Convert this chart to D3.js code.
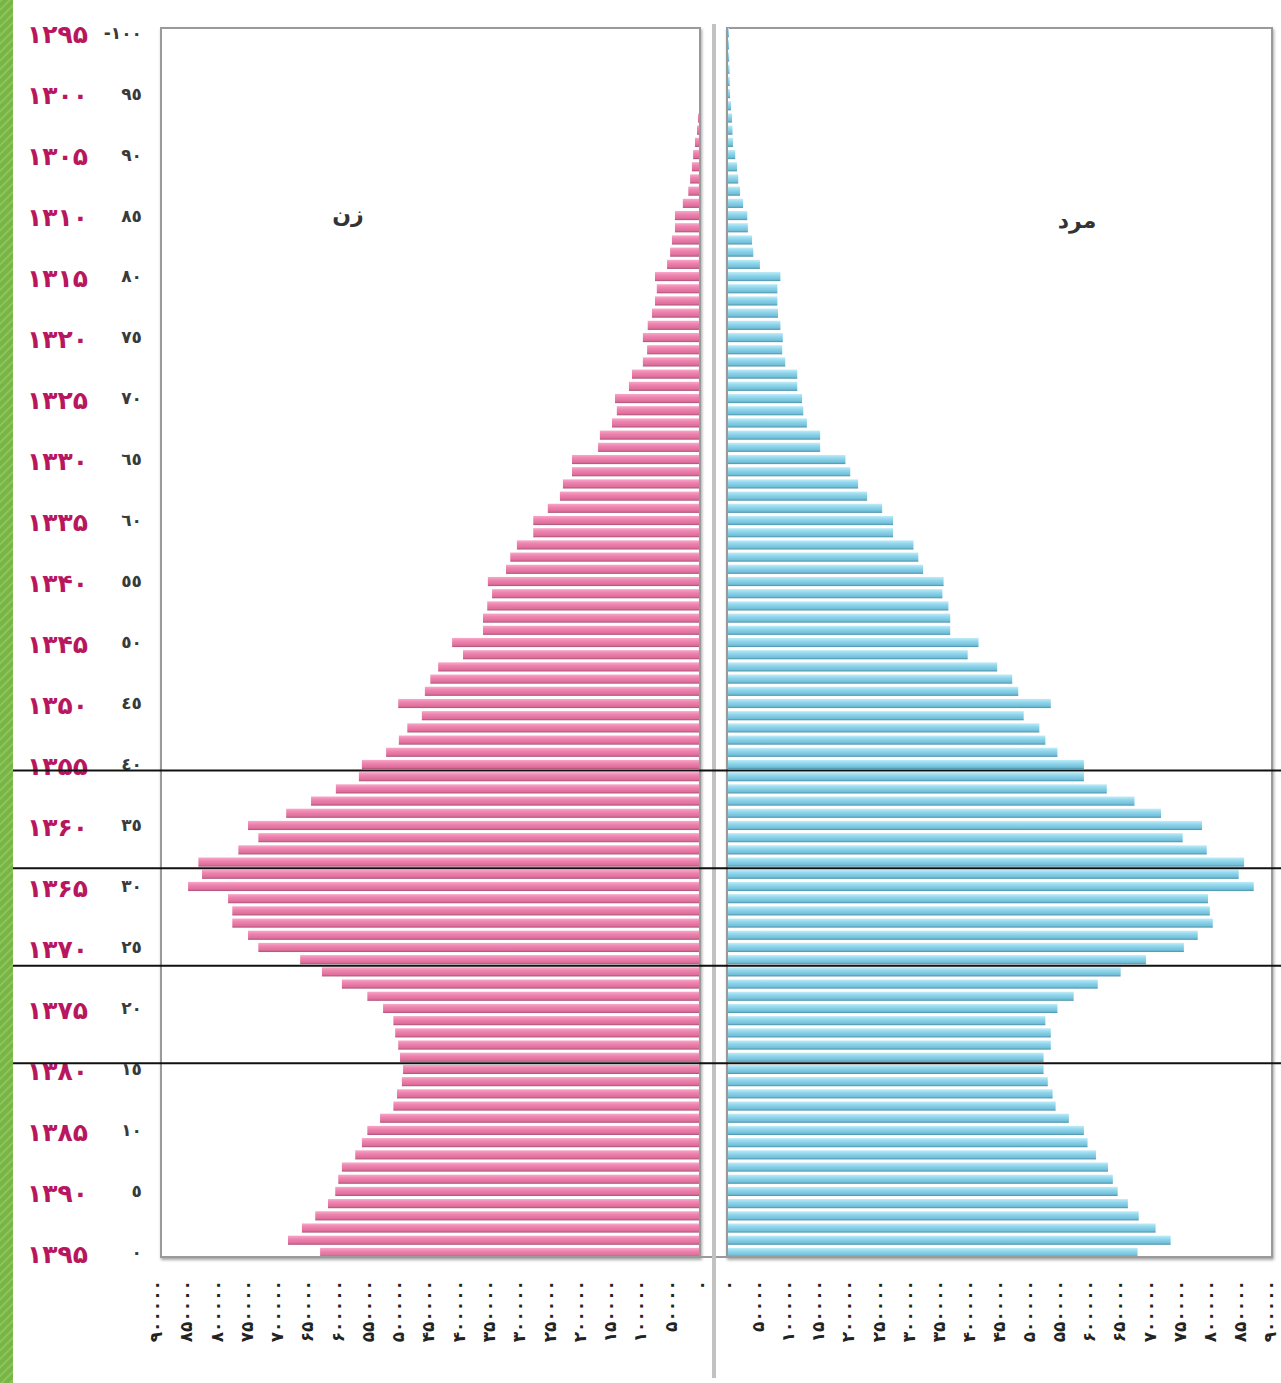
<!DOCTYPE html>
<html>
<head>
<meta charset="utf-8">
<script src="https://cdn.jsdelivr.net/npm/d3@7"></script>
<style>
  html, body { margin: 0; padding: 0; background: #fff; }
  svg { display: block; }
  .age-label { font-family: "DejaVu Sans", sans-serif; font-weight: bold; font-size: 17px; fill: #3a3a3a; }
  .year-label { font-family: "DejaVu Sans", sans-serif; font-weight: bold; font-size: 25px; fill: #b8175f; }
  .tick-label { font-family: "DejaVu Sans", sans-serif; font-weight: bold; font-size: 17px; fill: #222; }
  .sex-label { font-family: "DejaVu Sans", sans-serif; font-weight: bold; font-size: 22px; fill: #333; }
</style>
</head>
<body>
<div id="chart"></div>
<script>
// single-year ages, 0 .. 100+
const ages = d3.range(0, 101);

// women (left), index = age
const female = [
  629000, 682000, 659000, 637000, 616000, 604000, 599000, 593000, 571000, 560000,
  551000, 530000, 508000, 502000, 494000, 492000, 497000, 500000, 505000, 508000,
  525000, 551000, 593000, 626000, 662000, 731000, 748000, 774000, 774000, 781000,
  847000, 824000, 830000, 764000, 731000, 748000, 685000, 644000, 603000, 565000,
  560000, 520000, 499000, 485000, 461000, 500000, 456000, 447000, 434000, 393000,
  411000, 360000, 360000, 353000, 345000, 352000, 322000, 315000, 304000, 277000,
  277000, 253000, 233000, 228000, 213000, 213000, 170000, 167000, 147000, 139000,
  142000, 119000, 114000, 96000, 89000, 96000, 88000, 81000, 76000, 73000,
  76000, 56000, 51000, 48000, 43000, 43000, 30000, 21000, 18000, 15000,
  13000, 10000, 6600, 5000, 3300, 2000, 1500, 1000, 800, 600,
  1000
];

// men (right), index = age
const male = [
  680000, 735000, 710000, 682000, 664000, 647000, 639000, 631000, 611000, 597000,
  591000, 566000, 544000, 539000, 531000, 524000, 524000, 536000, 536000, 527000,
  547000, 574000, 614000, 652000, 694000, 757000, 780000, 805000, 800000, 797000,
  873000, 848000, 857000, 795000, 755000, 787000, 719000, 675000, 629000, 591000,
  591000, 547000, 527000, 517000, 491000, 536000, 482000, 472000, 447000, 398000,
  416000, 369000, 369000, 366000, 356000, 358000, 324000, 316000, 308000, 274000,
  274000, 256000, 231000, 216000, 203000, 195000, 153000, 153000, 131000, 125000,
  123000, 115000, 115000, 95000, 90000, 91000, 87000, 83000, 82000, 82000,
  87000, 53000, 42000, 40000, 33000, 32000, 25000, 20000, 17000, 15000,
  12000, 8300, 7500, 6700, 5000, 3300, 2800, 2500, 2000, 1700,
  1500
];

// labelled ages and their birth years (1395 census)
const tickAges = [0, 5, 10, 15, 20, 25, 30, 35, 40, 45, 50, 55, 60, 65, 70, 75, 80, 85, 90, 95, 100];
const ageLabels = ["٠", "٥", "١٠", "١٥", "٢٠", "٢٥", "٣٠", "٣٥", "٤٠", "٤٥", "٥٠",
  "٥٥", "٦٠", "٦٥", "٧٠", "٧٥", "٨٠", "٨٥", "٩٠", "٩٥", "-١٠٠"];
const yearLabels = ["۱۳۹۵", "۱۳۹۰", "۱۳۸۵", "۱۳۸۰", "۱۳۷۵", "۱۳۷۰", "۱۳۶۵", "۱۳۶۰", "۱۳۵۵", "۱۳۵۰", "۱۳۴۵",
  "۱۳۴۰", "۱۳۳۵", "۱۳۳۰", "۱۳۲۵", "۱۳۲۰", "۱۳۱۵", "۱۳۱۰", "۱۳۰۵", "۱۳۰۰", "۱۲۹۵"];

// population ticks on both sides
const popTicks = [0, 50000, 100000, 150000, 200000, 250000, 300000, 350000, 400000, 450000,
  500000, 550000, 600000, 650000, 700000, 750000, 800000, 850000, 900000];

// cohort marker lines drawn under these ages
const markerAges = [16, 24, 32, 40];

const sexLabels = { female: "زن", male: "مرد" };

const toFa = n => String(n).replace(/\d/g, d => "۰۱۲۳۴۵۶۷۸۹"[d]);

const width = 1281;
const height = 1383;
const frameTop = 28;
const frameBottom = 1257;

const svg = d3.select("#chart")
  .append("svg")
  .attr("width", width)
  .attr("height", height);

const defs = svg.append("defs");

const addGradient = (id, stops) => {
  const g = defs.append("linearGradient")
    .attr("id", id)
    .attr("x1", 0).attr("y1", 0)
    .attr("x2", 0).attr("y2", 1);
  stops.forEach(s => g.append("stop").attr("offset", s[0]).attr("stop-color", s[1]));
};

addGradient("pink", [["0%", "#f7a8c9"], ["35%", "#ee84b0"], ["80%", "#df6e9b"], ["100%", "#a65276"]]);
addGradient("blue", [["0%", "#c0ecf8"], ["35%", "#92d7ed"], ["80%", "#71c0d9"], ["100%", "#4c8fa6"]]);

const stripes = defs.append("pattern")
  .attr("id", "stripes")
  .attr("width", 6).attr("height", 6)
  .attr("patternUnits", "userSpaceOnUse")
  .attr("patternTransform", "rotate(45)");
stripes.append("rect").attr("width", 6).attr("height", 6).attr("fill", "#78b446");
stripes.append("rect").attr("width", 2).attr("height", 6).attr("fill", "#8cc55a");

const shadow = defs.append("filter").attr("id", "shadow").attr("x", "-5%").attr("y", "-5%").attr("width", "110%").attr("height", "110%");
shadow.append("feDropShadow").attr("dx", 1).attr("dy", 2).attr("stdDeviation", 1.5).attr("flood-color", "#000").attr("flood-opacity", 0.35);

// green strip on the left edge
svg.append("rect")
  .attr("x", 0).attr("y", 0)
  .attr("width", 13).attr("height", height)
  .attr("fill", "url(#stripes)");

const y = d3.scaleBand()
  .domain(ages)
  .range([frameBottom, frameTop])
  .paddingInner(0.25);

const xLeft = d3.scaleLinear().domain([0, 900000]).range([701, 156]);
const xRight = d3.scaleLinear().domain([0, 900000]).range([728, 1270]);

// frames
svg.append("rect")
  .attr("x", 161).attr("y", frameTop)
  .attr("width", 539).attr("height", frameBottom - frameTop)
  .attr("fill", "#fff")
  .attr("stroke", "#9a9a9a")
  .attr("stroke-width", 2)
  .attr("filter", "url(#shadow)");

svg.append("rect")
  .attr("x", 727).attr("y", frameTop)
  .attr("width", 545).attr("height", frameBottom - frameTop)
  .attr("fill", "#fff")
  .attr("stroke", "#9a9a9a")
  .attr("stroke-width", 2)
  .attr("filter", "url(#shadow)");

// bars
svg.append("g")
  .selectAll("rect")
  .data(ages)
  .join("rect")
  .attr("x", a => xLeft(female[a]))
  .attr("y", a => y(a))
  .attr("width", a => xLeft(0) - xLeft(female[a]))
  .attr("height", y.bandwidth())
  .attr("fill", "url(#pink)");

svg.append("g")
  .selectAll("rect")
  .data(ages)
  .join("rect")
  .attr("x", xRight(0))
  .attr("y", a => y(a))
  .attr("width", a => xRight(male[a]) - xRight(0))
  .attr("height", y.bandwidth())
  .attr("fill", "url(#blue)");

// inner frame edges drawn over the bars
svg.append("line")
  .attr("x1", 700).attr("x2", 700)
  .attr("y1", frameTop).attr("y2", frameBottom)
  .attr("stroke", "#9a9a9a").attr("stroke-width", 2);
svg.append("line")
  .attr("x1", 727).attr("x2", 727)
  .attr("y1", frameTop).attr("y2", frameBottom)
  .attr("stroke", "#9a9a9a").attr("stroke-width", 2);
svg.append("line")
  .attr("x1", 161).attr("x2", 1272)
  .attr("y1", frameBottom).attr("y2", frameBottom)
  .attr("stroke", "#9a9a9a").attr("stroke-width", 2);

// centre divider
svg.append("line")
  .attr("x1", 714).attr("x2", 714)
  .attr("y1", 24).attr("y2", 1378)
  .attr("stroke", "#c2c2c2").attr("stroke-width", 4);

// age and birth-year labels
const labels = svg.append("g");
tickAges.forEach((a, i) => {
  const cy = y(a) + y.bandwidth() / 2;
  labels.append("text")
    .attr("class", "age-label")
    .attr("x", 142)
    .attr("y", cy)
    .attr("dy", "0.35em")
    .attr("text-anchor", "end")
    .attr("direction", "ltr")
    .text(ageLabels[i]);
  labels.append("text")
    .attr("class", "year-label")
    .attr("x", 88)
    .attr("y", cy + 2)
    .attr("dy", "0.35em")
    .attr("text-anchor", "end")
    .attr("direction", "ltr")
    .text(yearLabels[i]);
});

// population tick labels, vertical
const addTicks = (scale, ticks) => {
  svg.append("g")
    .selectAll("text")
    .data(ticks)
    .join("text")
    .attr("class", "tick-label")
    .attr("transform", d => `translate(${scale(d)},1280) rotate(-90)`)
    .attr("dy", "0.35em")
    .attr("text-anchor", "end")
    .attr("direction", "ltr")
    .text(d => toFa(d));
};
addTicks(xLeft, popTicks);
addTicks(xRight, popTicks);

// cohort marker lines
markerAges.forEach(a => {
  const yy = (y(a) + y.bandwidth() + y(a - 1)) / 2;
  svg.append("line")
    .attr("x1", 13).attr("x2", width)
    .attr("y1", yy).attr("y2", yy)
    .attr("stroke", "#111").attr("stroke-width", 2);
});

// sex labels
svg.append("text")
  .attr("class", "sex-label")
  .attr("x", 348).attr("y", 222)
  .attr("text-anchor", "middle")
  .text(sexLabels.female);
svg.append("text")
  .attr("class", "sex-label")
  .attr("x", 1077).attr("y", 228)
  .attr("text-anchor", "middle")
  .text(sexLabels.male);
</script>
</body>
</html>
